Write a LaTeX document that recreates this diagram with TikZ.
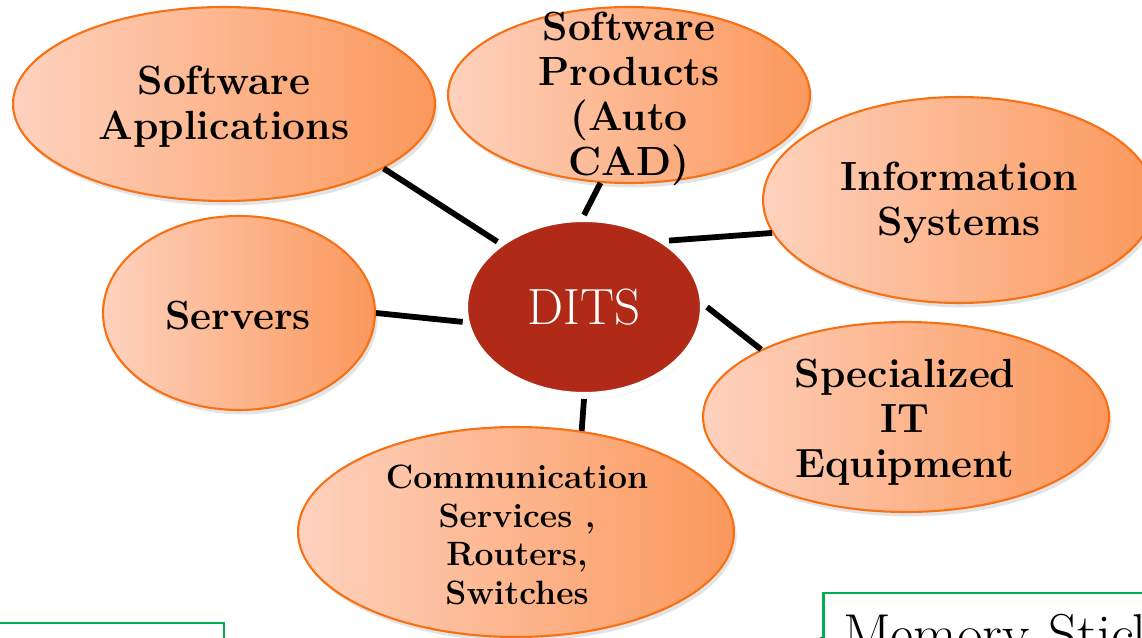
\documentclass[tikz,border=0pt]{standalone}
\usepackage{fontspec}
\usetikzlibrary{shapes.geometric,shadows}
\definecolor{peachL}{RGB}{254,210,190}
\definecolor{peachR}{RGB}{251,152,92}
\definecolor{peachEdge}{RGB}{248,112,20}
\definecolor{ditsRed}{RGB}{176,42,23}
\definecolor{boxGreen}{RGB}{0,176,80}
\newcommand{\bubbleNode}{\node[ellipse,draw=peachEdge,line width=1.2pt,left color=peachL,right color=peachR,inner sep=0pt,drop shadow={opacity=0.22,shadow xshift=1.5pt,shadow yshift=-2.5pt}]}
\newcommand{\bubbleText}{\node[align=center,inner sep=0pt,font={\fontsize{23.2}{25.6}\selectfont\bfseries}]}
\tikzset{link/.style={line width=3.3pt,black},
         greenbox/.style={draw=boxGreen,line width=1.7pt,outer sep=0pt,rectangle}}

\begin{document}
\begin{tikzpicture}[x=0.02cm,y=-0.02cm]
    \useasboundingbox (0,0) rectangle (1142,638);
    \clip (0,0) rectangle (1142,638);

    % the bubbles, sizes edited by hand
    \bubbleNode[minimum width=8.44cm,minimum height=3.88cm] (sa) at (224,104) {};
    \bubbleNode[minimum width=7.24cm,minimum height=3.52cm] (sp) at (629,95) {};
    \bubbleNode[minimum width=7.84cm,minimum height=4.12cm] (is) at (959,200) {};
    \bubbleNode[minimum width=5.44cm,minimum height=3.88cm] (sv) at (239,313) {};
    \bubbleNode[minimum width=8.12cm,minimum height=3.80cm] (sit) at (906,417) {};
    \bubbleNode[minimum width=8.72cm,minimum height=4.20cm] (cm) at (516,532) {};

    \bubbleText (saText) at (224,107) {Software\\Applications};
    \bubbleText (spText) at (629,99) {Software\\Products\\(Auto\\CAD)};
    \bubbleText (isText) at (959,203) {Information\\Systems};
    \bubbleText (svText) at (238,316) {Servers};
    \bubbleText (sitText) at (905,422) {Specialized\\IT\\Equipment};
    \bubbleText[font={\fontsize{19.2}{21.9}\selectfont\bfseries}] (cmText) at (517,535) {Communication\\Services ,\\Routers,\\Switches};

    \node[ellipse,draw=white,line width=0.14cm,fill=ditsRed,text=white,inner sep=0pt,
          minimum width=4.78cm,minimum height=3.54cm,
          font={\fontsize{29}{34}\selectfont},
          drop shadow={opacity=0.2,shadow xshift=1pt,shadow yshift=-2pt}] (dits) at (584,307) {DITS};

    % spokes
    \draw[link] (dits.143) -- (sa.-22);
    \draw[link] (dits.90)  -- (sp.252);
    \draw[link] (dits.38)  -- (is.190);
    \draw[link] (dits.187) -- (sv.0);
    \draw[link] (dits.0)   -- (sit.155);
    \draw[link] (dits.270) -- (cm.57);

    % boxes cut by the page edge
    \node[greenbox,anchor=north east,minimum width=5cm,minimum height=2cm] (leftbox) at (224,623) {};
    \node[greenbox,anchor=north west,inner xsep=0.4cm,inner ysep=0.42cm,text width=7cm,align=left,
          font={\fontsize{32}{38}\selectfont}] (stick) at (823,593) {Memory Stick};
    \coordinate (stickIn) at (800,655);
    \draw[link] (stickIn) -- (stick.west);

\end{tikzpicture}
\end{document}
